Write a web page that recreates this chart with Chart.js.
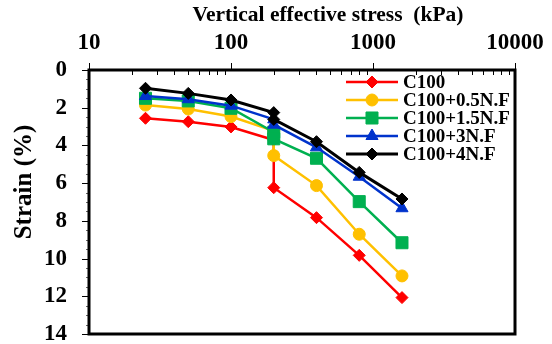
<!DOCTYPE html>
<html>
<head>
<meta charset="utf-8">
<script src="https://cdn.jsdelivr.net/npm/chart.js@4.4.1/dist/chart.umd.min.js"></script>
<style>
	body { margin: 0; background: #fff; }
	canvas { display: block; }
</style>
</head>
<body>
<canvas id="chart" width="552" height="344"></canvas>
<script>
const FONT = "'Liberation Serif', 'Times New Roman', serif";

// data
const stress = [25, 50, 100, 200, 200, 400, 800, 1600];
const seriesNames = ['C100', 'C100+0.5N.F', 'C100+1.5N.F', 'C100+3N.F', 'C100+4N.F'];
const strainC100 = [2.56, 2.74, 3.02, 3.71, 6.24, 7.83, 9.83, 12.07];
const strain05 = [1.86, 2.07, 2.47, 3.23, 4.54, 6.13, 8.71, 10.92];
const strain15 = [1.50, 1.64, 2.03, 3.30, 3.65, 4.68, 6.98, 9.16];
const strain3 = [1.38, 1.55, 1.89, 2.62, 2.90, 4.10, 5.66, 7.33];
const strain4 = [0.97, 1.24, 1.59, 2.26, 2.62, 3.80, 5.43, 6.84];
const xTickLabels = [10, 100, 1000, 10000];

const colors = ['#FF0000', '#FFC000', '#00B050', '#0033CC', '#000000'];
const markers = ['rectRot', 'circle', 'rect', 'triangle', 'rectRot'];
const markerSize = [6, 6, 8.5, 7, 6];

function toPoints(values) {
	return stress.map((s, i) => ({ x: s, y: values[i] }));
}

const allStrains = [strainC100, strain05, strain15, strain3, strain4];
const datasets = allStrains.map((values, i) => ({
	label: seriesNames[i],
	data: toPoints(values),
	borderColor: colors[i],
	backgroundColor: colors[i],
	borderWidth: i == 4 ? 3 : 2.5,
	pointStyle: markers[i],
	pointRadius: markerSize[i],
	pointBorderWidth: 1,
	pointBorderColor: colors[i],
	pointBackgroundColor: colors[i],
	tension: 0,
	order: 5 - i,
}));

// tick marks, frame, axis titles and the line+marker legend
const decor = {
	id: 'decor',
	afterDraw(chart) {
		const ctx = chart.ctx;
		const area = chart.chartArea;
		const xs = chart.scales.x;
		const ys = chart.scales.y;
		ctx.save();
		ctx.strokeStyle = '#000';
		ctx.lineWidth = 1;

		// x ticks: majors outward, minors inward
		for (let d = 10; d <= 10000; d *= 10) {
			let px = Math.round(xs.getPixelForValue(d)) + 0.5;
			ctx.beginPath();
			ctx.moveTo(px, area.top - 7);
			ctx.lineTo(px, area.top);
			ctx.stroke();
			if (d == 10000) break;
			for (let m = 2; m <= 9; m++) {
				px = Math.round(xs.getPixelForValue(d * m)) + 0.5;
				ctx.beginPath();
				ctx.moveTo(px, area.top);
				ctx.lineTo(px, area.top + 5);
				ctx.stroke();
			}
		}

		// y ticks
		for (let v = 0; v <= 14; v += 0.5) {
			const py = Math.round(ys.getPixelForValue(v)) + 0.5;
			const major = v % 2 == 0;
			ctx.strokeStyle = major ? '#000' : '#666';
			ctx.beginPath();
			ctx.moveTo(area.left - (major ? 7 : 3), py);
			ctx.lineTo(area.left, py);
			ctx.stroke();
		}

		// frame
		ctx.strokeStyle = '#000';
		ctx.lineWidth = 3;
		ctx.strokeRect(area.left, area.top, area.right - area.left, area.bottom - area.top);

		// axis titles
		ctx.fillStyle = '#000';
		ctx.textAlign = 'center';
		ctx.font = 'bold 21.5px ' + FONT;
		ctx.textBaseline = 'alphabetic';
		ctx.fillText('Vertical effective stress  (kPa)', 328, 21);

		ctx.save();
		ctx.translate(25, 182);
		ctx.rotate(-Math.PI / 2);
		ctx.font = 'bold 25px ' + FONT;
		ctx.textBaseline = 'middle';
		ctx.fillText('Strain (%)', 0, 0);
		ctx.restore();

		// legend
		ctx.font = 'bold 19px ' + FONT;
		ctx.textBaseline = 'middle';
		ctx.textAlign = 'left';
		chart.data.datasets.forEach((ds, i) => {
			const y = 82 + i * 18;
			ctx.strokeStyle = ds.borderColor;
			ctx.fillStyle = ds.backgroundColor;
			ctx.lineWidth = ds.borderWidth;
			ctx.beginPath();
			ctx.moveTo(346, y);
			ctx.lineTo(398, y);
			ctx.stroke();
			ctx.lineWidth = 1;
			Chart.helpers.drawPoint(ctx, {
				pointStyle: ds.pointStyle,
				radius: ds.pointRadius,
				borderWidth: 1,
				rotation: 0,
			}, 372, y);
			ctx.fillStyle = '#000';
			ctx.fillText(ds.label, 403, y + 1);
		});
		ctx.restore();
	}
};

new Chart(document.getElementById('chart'), {
	type: 'line',
	data: { datasets: datasets },
	options: {
		responsive: false,
		animation: false,
		devicePixelRatio: 1,
		layout: { padding: { left: 0, top: 0, right: 37, bottom: 10 } },
		plugins: {
			legend: { display: false },
			tooltip: { enabled: false },
		},
		scales: {
			x: {
				type: 'logarithmic',
				position: 'top',
				min: 10,
				max: 10000,
				grid: { display: false },
				border: { display: false },
				title: { display: false },
				ticks: {
					autoSkip: false,
					maxRotation: 0,
					padding: 5,
					color: '#000',
					font: { family: FONT, size: 23, weight: 'bold' },
					callback: (v) => xTickLabels.includes(v) ? String(v) : '',
				},
				afterFit: (scale) => {
					scale.height = 70;
					scale.paddingLeft = 0;
					scale.paddingRight = 0;
				},
			},
			y: {
				type: 'linear',
				reverse: true,
				min: 0,
				max: 14,
				grid: { display: false },
				border: { display: false },
				title: { display: false },
				ticks: {
					stepSize: 2,
					padding: 14,
					color: '#000',
					font: { family: FONT, size: 23, weight: 'bold' },
				},
				afterFit: (scale) => {
					scale.width = 89;
					scale.paddingTop = 0;
					scale.paddingBottom = 0;
				},
			},
		},
	},
	plugins: [decor],
});
</script>
</body>
</html>
